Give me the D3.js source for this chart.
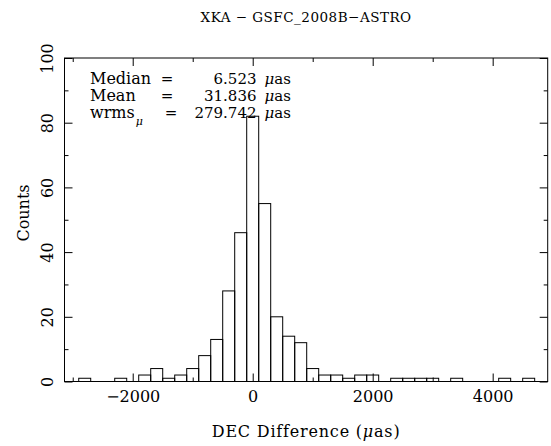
<!DOCTYPE html>
<html>
<head>
<meta charset="utf-8">
<script src="https://cdn.jsdelivr.net/npm/d3@7"></script>
<style>
  html, body { margin: 0; padding: 0; background: #fff; }
  svg { display: block; }
  text { font-family: "DejaVu Serif", "Liberation Serif", serif; fill: #000; }
</style>
</head>
<body>
<svg id="chart" width="551" height="446"></svg>
<script>
// Histogram of DEC differences (bin width 200 µas, bins centred on multiples of 200)
const binCenters = [-2800, -2600, -2400, -2200, -2000, -1800, -1600, -1400, -1200, -1000,
                    -800, -600, -400, -200, 0, 200, 400, 600, 800, 1000,
                    1200, 1400, 1600, 1800, 2000, 2200, 2400, 2600, 2800, 3000,
                    3200, 3400, 3600, 3800, 4000, 4200, 4400, 4600];
const binCounts  = [1, 0, 0, 1, 0, 2, 4, 1, 2, 4,
                    8, 13, 28, 46, 82, 55, 20, 14, 12, 4,
                    2, 2, 1, 2, 2, 0, 1, 1, 1, 1,
                    0, 1, 0, 0, 0, 1, 0, 1];
const binWidth = 200;

const xDomain = [-3137, 4917];
const yDomain = [0, 100];
const xMajorTicks = [-2000, 0, 2000, 4000];
const xMinorTicks = [-3000, -1000, 1000, 3000];
const yMajorTicks = [0, 20, 40, 60, 80, 100];
const yMinorTicks = [10, 30, 50, 70, 90];

const titleText = "XKA \u2212 GSFC_2008B\u2212ASTRO";
const statLabels = ["Median", "Mean", "wrms"];
const statValues = ["6.523", "31.836", "279.742"];

const svg = d3.select("#chart");
const plot = { left: 64.5, right: 547.7, top: 58, bottom: 381.5 };

const x = d3.scaleLinear().domain(xDomain).range([plot.left, plot.right]);
const y = d3.scaleLinear().domain(yDomain).range([plot.bottom, plot.top]);

// histogram bars (outlined, no fill)
svg.append("g")
  .selectAll("rect")
  .data(binCenters.map((c, i) => ({ c, n: binCounts[i] })))
  .join("rect")
  .attr("x", d => x(d.c - binWidth / 2))
  .attr("width", d => x(d.c + binWidth / 2) - x(d.c - binWidth / 2))
  .attr("y", d => y(d.n))
  .attr("height", d => y(0) - y(d.n))
  .attr("fill", "none")
  .attr("stroke", "#000")
  .attr("stroke-width", 1);

// frame
svg.append("rect")
  .attr("x", plot.left).attr("y", plot.top)
  .attr("width", plot.right - plot.left).attr("height", plot.bottom - plot.top)
  .attr("fill", "none").attr("stroke", "#000").attr("stroke-width", 1);

const font = 15;
const tickFont = 16;

function styleAxis(g) {
  g.select(".domain").remove();
  g.selectAll("line").attr("stroke", "#000").attr("stroke-width", 1);
  g.selectAll("text").style("font-family", "DejaVu Serif").style("font-size", tickFont + "px").attr("fill", "#000");
}

const fmt = d => d3.format("d")(d).replace("-", "\u2212");

// bottom axis: inward ticks, labels below
svg.append("g").attr("transform", `translate(0,${plot.bottom})`)
  .call(d3.axisBottom(x).tickValues(xMajorTicks).tickSizeInner(-8).tickSizeOuter(0).tickPadding(9).tickFormat(fmt))
  .call(styleAxis);
svg.append("g").attr("transform", `translate(0,${plot.bottom})`)
  .call(d3.axisBottom(x).tickValues(xMinorTicks).tickSizeInner(-4).tickSizeOuter(0).tickFormat(""))
  .call(styleAxis);
// top axis
svg.append("g").attr("transform", `translate(0,${plot.top})`)
  .call(d3.axisTop(x).tickValues(xMajorTicks).tickSizeInner(-8).tickSizeOuter(0).tickFormat(""))
  .call(styleAxis);
svg.append("g").attr("transform", `translate(0,${plot.top})`)
  .call(d3.axisTop(x).tickValues(xMinorTicks).tickSizeInner(-4).tickSizeOuter(0).tickFormat(""))
  .call(styleAxis);

// left axis with rotated labels
const yLeft = svg.append("g").attr("transform", `translate(${plot.left},0)`)
  .call(d3.axisLeft(y).tickValues(yMajorTicks).tickSizeInner(-8).tickSizeOuter(0).tickFormat(d3.format("d")))
  .call(styleAxis);
yLeft.selectAll(".tick text")
  .attr("transform", "rotate(-90)")
  .attr("x", 0).attr("y", -11.5).attr("dy", 0)
  .attr("text-anchor", "middle");
svg.append("g").attr("transform", `translate(${plot.left},0)`)
  .call(d3.axisLeft(y).tickValues(yMinorTicks).tickSizeInner(-4).tickSizeOuter(0).tickFormat(""))
  .call(styleAxis);
// right axis
svg.append("g").attr("transform", `translate(${plot.right},0)`)
  .call(d3.axisRight(y).tickValues(yMajorTicks).tickSizeInner(-8).tickSizeOuter(0).tickFormat(""))
  .call(styleAxis);
svg.append("g").attr("transform", `translate(${plot.right},0)`)
  .call(d3.axisRight(y).tickValues(yMinorTicks).tickSizeInner(-4).tickSizeOuter(0).tickFormat(""))
  .call(styleAxis);

// title
svg.append("text")
  .attr("x", (plot.left + plot.right) / 2).attr("y", 22)
  .attr("text-anchor", "middle")
  .style("font-size", "13.5px")
  .style("letter-spacing", "0.5px")
  .text(titleText);

// axis titles
const xt = svg.append("text")
  .attr("x", (plot.left + plot.right) / 2).attr("y", 437)
  .attr("text-anchor", "middle")
  .style("font-size", "16px")
  .style("letter-spacing", "0.8px");
xt.append("tspan").text("DEC Difference (");
xt.append("tspan").style("font-style", "italic").text("\u03bc");
xt.append("tspan").text("as)");

svg.append("text")
  .attr("transform", "translate(29,213) rotate(-90)")
  .attr("text-anchor", "middle")
  .style("font-size", "16px")
  .text("Counts");

// summary statistics
const rowY = [84, 101, 118];
const eqX = [167, 167, 171];
const stats = svg.append("g").style("font-size", font + "px");
statLabels.forEach((lab, i) => {
  const t = stats.append("text").attr("x", 90).attr("y", rowY[i]).style("font-size", "16px");
  t.append("tspan").text(lab);
  if (i === 2) {
    t.append("tspan").attr("dy", 7).attr("dx", 1).style("font-style", "italic").style("font-size", "11px").text("\u03bc");
  }
  stats.append("text").attr("x", eqX[i]).attr("y", rowY[i]).attr("text-anchor", "middle").text("=");
  stats.append("text").attr("x", 256.5).attr("y", rowY[i]).attr("text-anchor", "end").text(statValues[i]);
  const u = stats.append("text").attr("x", 264.5).attr("y", rowY[i]);
  u.append("tspan").style("font-style", "italic").text("\u03bc");
  u.append("tspan").text("as");
});
</script>
</body>
</html>
